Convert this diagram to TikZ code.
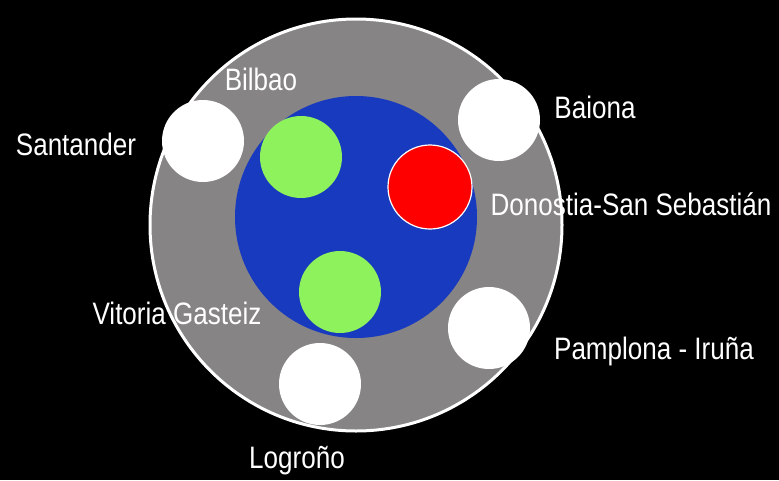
\documentclass[tikz,border=0pt]{standalone}
\usepackage{fontspec}
\setmainfont[FakeStretch=0.84]{Liberation Sans}
\definecolor{ringgray}{RGB}{134,132,133}
\definecolor{seablue}{RGB}{24,58,190}
\definecolor{cityg}{RGB}{142,242,92}
\tikzset{
  city/.style={circle,fill=white,minimum size=82pt,inner sep=0pt},
  capital/.style={circle,fill=cityg,minimum size=82pt,inner sep=0pt},
  lbl/.style={text=white,font=\fontsize{31}{34}\selectfont,inner sep=0pt}
}
\begin{document}
\begin{tikzpicture}[line cap=round,line join=round,x=1pt,y=-1pt]
\fill[black] (0,0) rectangle (779,480);
\useasboundingbox (0,0) rectangle (779,480);
\node[circle,fill=ringgray,draw=white,line width=3pt,minimum size=412pt,inner sep=0pt] (ring) at (356,225) {};
\node[circle,fill=seablue,minimum size=242pt,inner sep=0pt] (sea) at (356,217) {};
\node[capital] (bil) at (301,157) {};
\node[capital] (vit) at (340,292) {};
\node[circle,fill=red,draw=white,line width=1.2pt,minimum size=84pt,inner sep=0pt] (don) at (430,187) {};
\node[city] (san) at (203,141) {};
\node[city] (bai) at (499,120) {};
\node[city] (pam) at (489,328) {};
\node[city] (log) at (320,384) {};
% names
\node[lbl] (tsan) at (76,144) {Santander};
\node[lbl] (tbil) at (261,79) {Bilbao};
\node[lbl] (tbai) at (595,107) {Baiona};
\node[lbl] (tdon) at (631,204) {Donostia-San Sebastián};
\node[lbl] (tvit) at (177,313) {Vitoria Gasteiz};
\node[lbl] (tpam) at (654,351) {Pamplona - Iruña};
\node[lbl] (tlog) at (297,461) {Logroño};
\end{tikzpicture}
\end{document}
